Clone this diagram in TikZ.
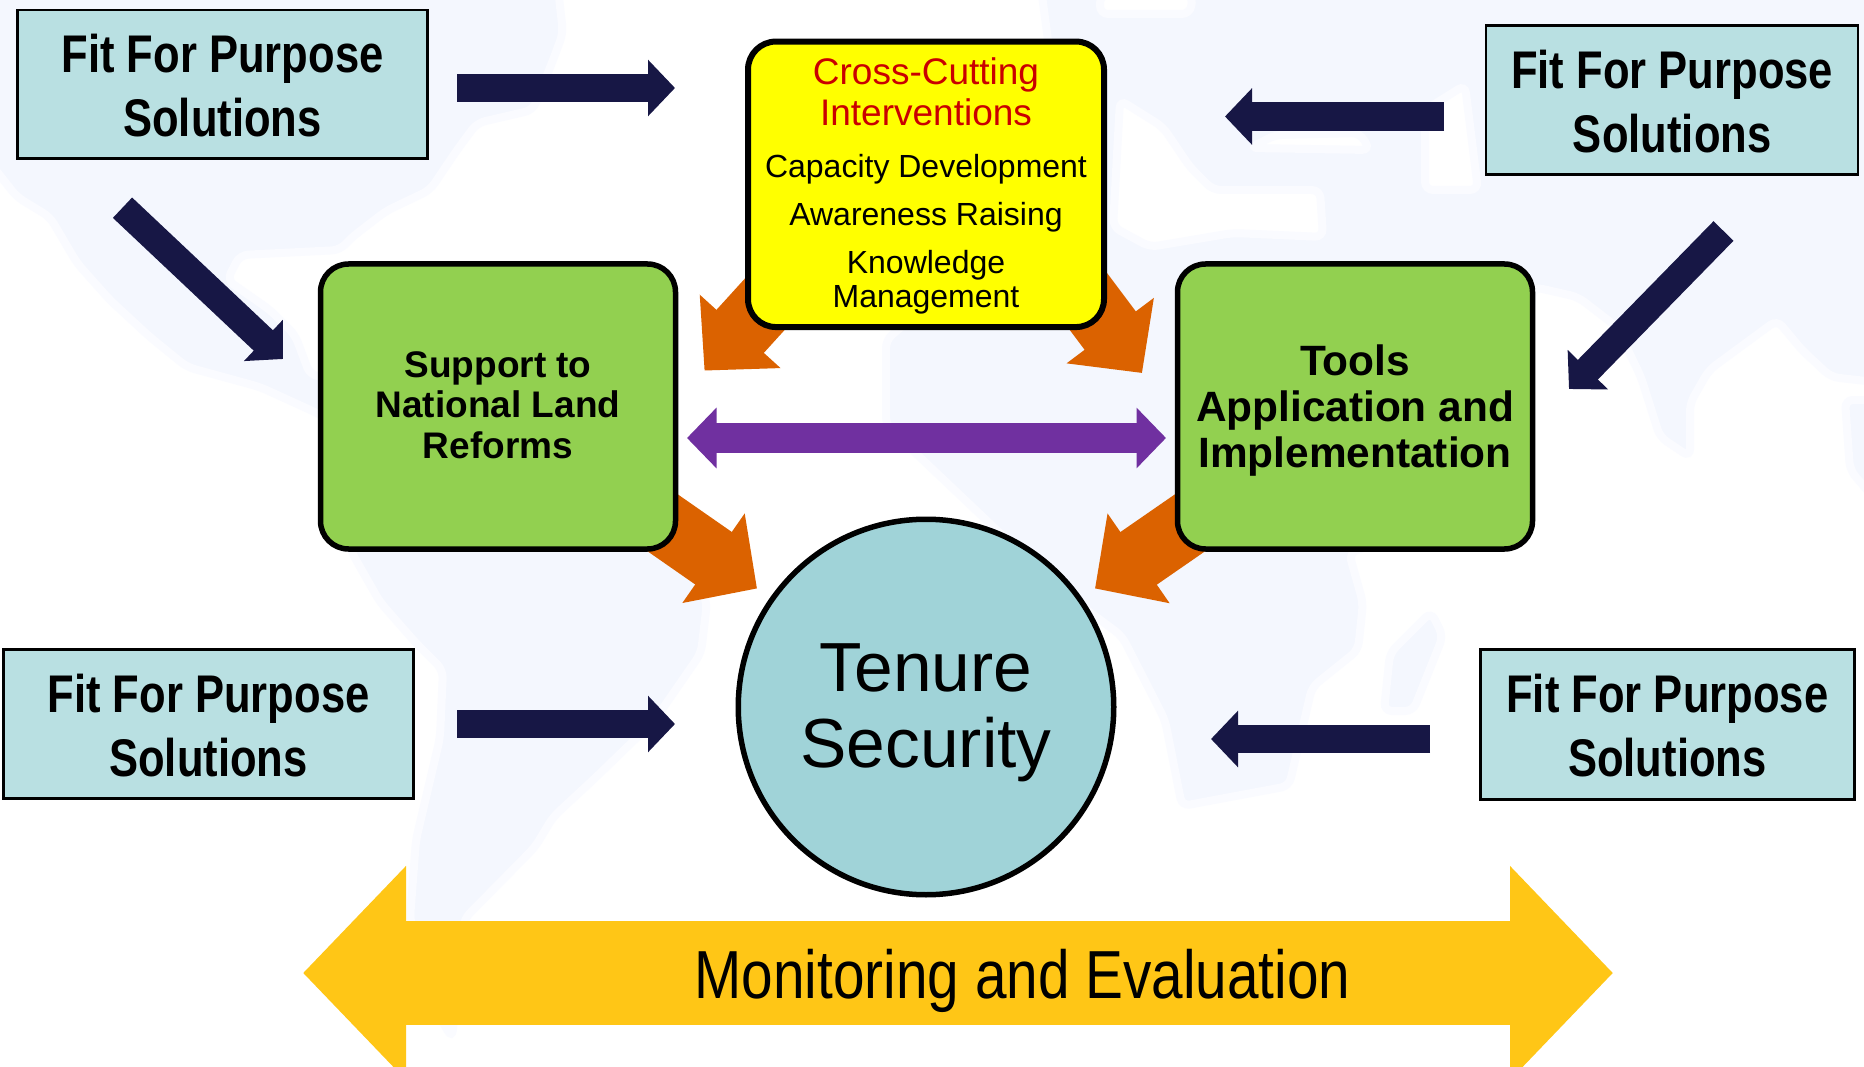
\documentclass[tikz,border=0pt]{standalone}
\usepackage{fontspec}
\usetikzlibrary{arrows.meta}
\setmainfont{Liberation Sans}
\newfontfamily\fitfont[FakeStretch=0.822]{Liberation Sans}
\newfontfamily\evalfont[FakeStretch=0.834]{Liberation Sans}
\pgfdeclarelayer{back}
\pgfsetlayers{back,main}
\definecolor{mapblue}{HTML}{F4F7FE}
\definecolor{mapsoft}{HTML}{FAFBFF}
\definecolor{boxblue}{HTML}{B9E0E2}
\definecolor{hubblue}{HTML}{A0D3D8}
\definecolor{leaf}{HTML}{92D050}
\definecolor{navyblue}{HTML}{171745}
\definecolor{burnt}{HTML}{DB6200}
\definecolor{violet}{HTML}{7030A0}
\definecolor{gold}{HTML}{FFC616}
\definecolor{crossred}{HTML}{C90000}
\definecolor{brightyellow}{RGB}{255,255,0}
\newcommand{\fitlabel}{\rule{0pt}{41pt}Fit For Purpose\\Solutions}
\tikzset{
  fitbox/.style={draw=black,line width=2.5pt,fill=boxblue,inner sep=0pt,align=center,
    font=\fitfont\bfseries\fontsize{53pt}{64pt}\selectfont},
  greenbox/.style={draw=black,line width=5.5pt,fill=leaf,rounded corners=28pt,inner sep=0pt,align=center,
    minimum width=355pt,minimum height=285pt,font=\bfseries},
  yellowbox/.style={draw=black,line width=6pt,fill=brightyellow,rounded corners=28pt,inner sep=0pt,align=center,
    minimum width=356pt,minimum height=285.5pt,font=\fontsize{32pt}{34pt}\selectfont},
  hub/.style={circle,draw=black,line width=5.5pt,fill=hubblue,inner sep=0pt,minimum size=375.5pt,align=center,
    font=\fontsize{69.5pt}{75.5pt}\selectfont},
  navyarrow/.style={draw=navyblue,line width=28pt,-{Triangle[length=27pt,width=55pt]}},
  orangearrow/.style={draw=burnt,line width=64pt,-{Triangle[length=53pt,width=106pt]}},
  purplearrow/.style={draw=violet,line width=30pt,{Triangle[length=29.5pt,width=59pt]}-{Triangle[length=29.5pt,width=59pt]}},
  goldarrow/.style={draw=gold,line width=104pt,{Triangle[length=103pt,width=208pt]}-{Triangle[length=103pt,width=208pt]}},
  land/.style={fill=mapblue,draw=mapsoft,line width=8pt,rounded corners=8pt},
  sea/.style={fill=white,draw=mapsoft,line width=8pt,rounded corners=8pt},
}
\begin{document}
\begin{tikzpicture}[x=1pt,y=-1pt]
\useasboundingbox (0,0) rectangle (1864,1067);
% faint world map
\begin{pgfonlayer}{back}
\fill[white] (0,0) rectangle (1864,1067);
\filldraw[land] (-20,-20) -- (557,-20) -- (563,33) -- (553,60) -- (533,110) -- (477,123) -- (457,150) -- (430,190) -- (386,211)
  -- (351,238) -- (340,250) -- (240,255) -- (227,280) -- (270,310) -- (295,335) -- (310,375) -- (620,420) -- (707,602)
  -- (701,653) -- (654,721) -- (594,779) -- (553,817) -- (535,847) -- (464,919) -- (452,1038) -- (430,1000) -- (410,919)
  -- (416,840) -- (440,738) -- (443,670) -- (416,643) -- (380,602) -- (351,551) -- (330,420) -- (317,413) -- (260,387)
  -- (187,367) -- (150,337) -- (110,300) -- (77,263) -- (50,217) -- (17,197) -- (-20,150) -- cycle;
\filldraw[land] (1040,-20) -- (1884,-20) -- (1884,383) -- (1831,377) -- (1802,350) -- (1777,320) -- (1709,370) -- (1690,403)
  -- (1690,457) -- (1660,437) -- (1641,377) -- (1617,327) -- (1578,297) -- (1534,287) -- (1500,500) -- (1349,553)
  -- (1363,603) -- (1358,650) -- (1312,687) -- (1289,786) -- (1182,806) -- (1165,720) -- (1122,636) -- (1060,590)
  -- (886,425) -- (886,340) -- (980,260) -- (1060,130) -- cycle;
\filldraw[land] (1884,400) -- (1845,400) -- (1850,470) -- (1884,510) -- cycle;
\filldraw[land] (1431,612) -- (1390,653) -- (1384,711) -- (1413,711) -- (1443,636) -- cycle;
\filldraw[sea] (1120,100) -- (1163,127) -- (1190,167) -- (1213,190) -- (1320,190) -- (1323,237) -- (1233,233) -- (1150,247) -- (1113,227) -- cycle;
\filldraw[sea] (1250,148) -- (1370,150) -- (1360,133) -- (1275,135) -- cycle;
\filldraw[sea] (1425,110) -- (1465,85) -- (1478,190) -- (1425,190) -- cycle;
\filldraw[sea] (1100,-5) -- (1193,-5) -- (1190,14) -- (1100,14) -- cycle;
\end{pgfonlayer}
% solutions boxes
\node[fitbox,minimum width=410pt,minimum height=148.5pt] (f1) at (222.5,84.5) {\fitlabel};
\node[fitbox,minimum width=372pt,minimum height=149pt] (f2) at (1672.2,100) {\fitlabel};
\node[fitbox,minimum width=410pt,minimum height=149pt] (f3) at (208.5,724) {\fitlabel};
\node[fitbox,minimum width=374pt,minimum height=150pt] (f4) at (1667.3,724.5) {\fitlabel};
% central nodes
\node[yellowbox] (cross) at (926,184.3) {\rule{0pt}{30.2pt}{\color{crossred}\fontsize{37pt}{34pt}\selectfont Cross-Cutting}\\[5.3pt]
  {\color{crossred}\fontsize{37pt}{34pt}\selectfont Interventions}\\[18pt]
  Capacity Development\\[14pt]Awareness Raising\\[14pt]Knowledge\\Management};
\node[greenbox,font=\bfseries\fontsize{37pt}{40.5pt}\selectfont] (land) at (498,406.5) {Support to\\National Land\\Reforms\rule[-3pt]{0pt}{0pt}};
\node[greenbox,font=\bfseries\fontsize{42.4pt}{46pt}\selectfont] (tools) at (1355,406.5) {\rule{0pt}{39pt}Tools\\Application and\\Implementation};
\node[hub] (tenure) at (926,707) {\rule{0pt}{59pt}Tenure\\Security};
% block arrows
\begin{pgfonlayer}{back}
\draw[orangearrow] ([shift={(-151,108.7)}]cross.center) -- ([shift={(-221.5,186.3)}]cross.center);
\draw[orangearrow] ([shift={(150,100.7)}]cross.center) -- ([shift={(216,188.7)}]cross.center);
\draw[orangearrow] ([shift={(152,107.5)}]land.center) -- ([shift={(259,182)}]land.center);
\draw[orangearrow] ([shift={(-153,108)}]tools.center) -- ([shift={(-260,182)}]tools.center);
\end{pgfonlayer}
\draw[navyarrow] ([shift={(234.5,3.5)}]f1.center) -- ([shift={(-251,-96.3)}]cross.center);
\draw[navyarrow,line width=29pt] ([shift={(-228.2,16.5)}]f2.center) -- ([shift={(299,-67.8)}]cross.center);
\draw[navyarrow] ([shift={(248.5,0)}]f3.center) -- ([shift={(-251,17)}]tenure.center);
\draw[navyarrow] ([shift={(-237.3,14.5)}]f4.center) -- ([shift={(285,32)}]tenure.center);
\draw[navyarrow] ([shift={(-100,123.2)}]f1.center) -- ([shift={(-215,-47.5)}]land.center);
\draw[navyarrow] ([shift={(51.3,131)}]f2.center) -- ([shift={(214,-17.5)}]tools.center);
\draw[purplearrow] ([shift={(189,31.5)}]land.center) -- ([shift={(-189,31.5)}]tools.center);
\coordinate (mleft) at (303,973);
\coordinate (mright) at (1613,973);
\draw[goldarrow] (mleft) -- (mright);
\node[anchor=base,inner sep=0pt,font=\evalfont\fontsize{68pt}{70pt}\selectfont] (monitor) at (1022.5,998) {Monitoring and Evaluation};
\end{tikzpicture}
\end{document}
